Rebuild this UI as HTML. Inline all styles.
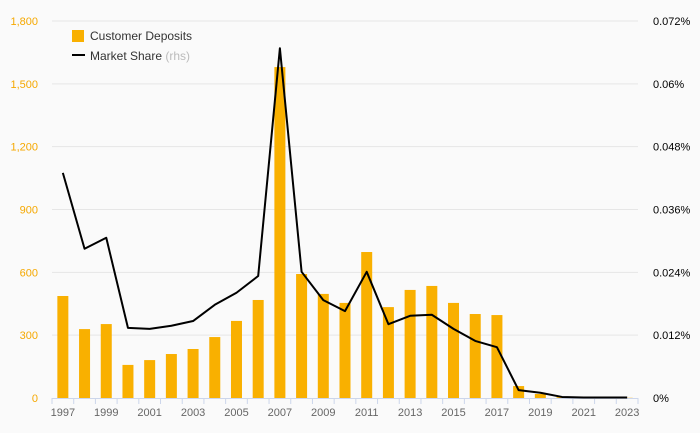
<!DOCTYPE html>
<html><head><meta charset="utf-8"><style>
body{margin:0;background:#fafafa;font-family:"Liberation Sans",sans-serif}
svg{display:block}
</style></head><body>
<svg id="c" width="700" height="433"></svg>
<script>
const years=[1997,1998,1999,2000,2001,2002,2003,2004,2005,2006,2007,2008,2009,2010,2011,2012,2013,2014,2015,2016,2017,2018,2019,2020,2021,2022,2023];
const deposits=[487,329,353,158,181,210,234,291,368,468,1580,592,497,454,697,434,516,535,454,401,396,57,19,4,2,1,1];
const share=[0.0430,0.0285,0.0306,0.0134,0.0132,0.0138,0.0147,0.0178,0.0201,0.0233,0.0668,0.0241,0.0187,0.0166,0.0241,0.0141,0.0157,0.0159,0.0132,0.0109,0.0097,0.0015,0.0010,0.0002,0.0001,0.0001,0.0001];
const leftTicks=[0,300,600,900,1200,1500,1800];
const leftLabels=["0","300","600","900","1,200","1,500","1,800"];
const rightTicks=[0,0.012,0.024,0.036,0.048,0.06,0.072];
const rightLabels=["0%","0.012%","0.024%","0.036%","0.048%","0.06%","0.072%"];
const NS="http://www.w3.org/2000/svg";
const svg=document.getElementById('c');
const X0=52,X1=638,Y0=398,Y1=21;
const bw=(X1-X0)/years.length;
const xc=i=>X0+bw*(i+0.5);
const yL=v=>Y0-(v/1800)*(Y0-Y1);
const yR=v=>Y0-(v/0.072)*(Y0-Y1);
function mk(t,a,txt){const e=document.createElementNS(NS,t);for(const k in a)e.setAttribute(k,a[k]);if(txt!=null)e.textContent=txt;svg.appendChild(e);return e;}
leftTicks.forEach((v,i)=>{
 if(v>0){const g=mk('line',{x1:X0,x2:X1,y1:yL(v),y2:yL(v),stroke:'#e6e6e6','stroke-width':1});
 
 }
 const t=mk('text',{x:38,y:yL(v)+4,'text-anchor':'end','font-size':11,fill:'#f5a800'},leftLabels[i]);
 
 
});
rightTicks.forEach((v,i)=>{
 const t=mk('text',{x:653,y:yR(v)+4,'font-size':11,fill:'#000'},rightLabels[i]);
 
 
});
deposits.forEach((v,i)=>{
 const r=mk('rect',{x:xc(i)-5.5,y:yL(v),width:11,height:Y0-yL(v),fill:'#f9b000'});
 
 
});
const ax=mk('line',{x1:X0,x2:X1,y1:Y0+0.5,y2:Y0+0.5,stroke:'#ccd6eb'});


for(let i=0;i<=years.length;i++){
 const tk=mk('line',{x1:X0+bw*i,x2:X0+bw*i,y1:Y0,y2:Y0+6,stroke:'#ccd6eb'});
 
 
}
years.forEach((y,i)=>{ if(i%2===0){
 const t=mk('text',{x:xc(i),y:416,'text-anchor':'middle','font-size':11,fill:'#666'},String(y));
 
 
}});
const pl=mk('polyline',{points:share.map((v,i)=>xc(i)+','+yR(v)).join(' '),fill:'none',stroke:'#000','stroke-width':2,'stroke-linejoin':'round'});


const l1=mk('rect',{x:72,y:30,width:12,height:12,fill:'#f9b000'});


const t1=mk('text',{x:90,y:40,'font-size':12,fill:'#333'},'Customer Deposits');


const l2=mk('line',{x1:72,x2:85,y1:55,y2:55,stroke:'#000','stroke-width':2});


const t2=mk('text',{x:90,y:60,'font-size':12,fill:'#333'},'Market Share ');


const ts=document.createElementNS(NS,'tspan');ts.setAttribute('fill','#bbb');ts.textContent='(rhs)';t2.appendChild(ts);
</script>
</body></html>
